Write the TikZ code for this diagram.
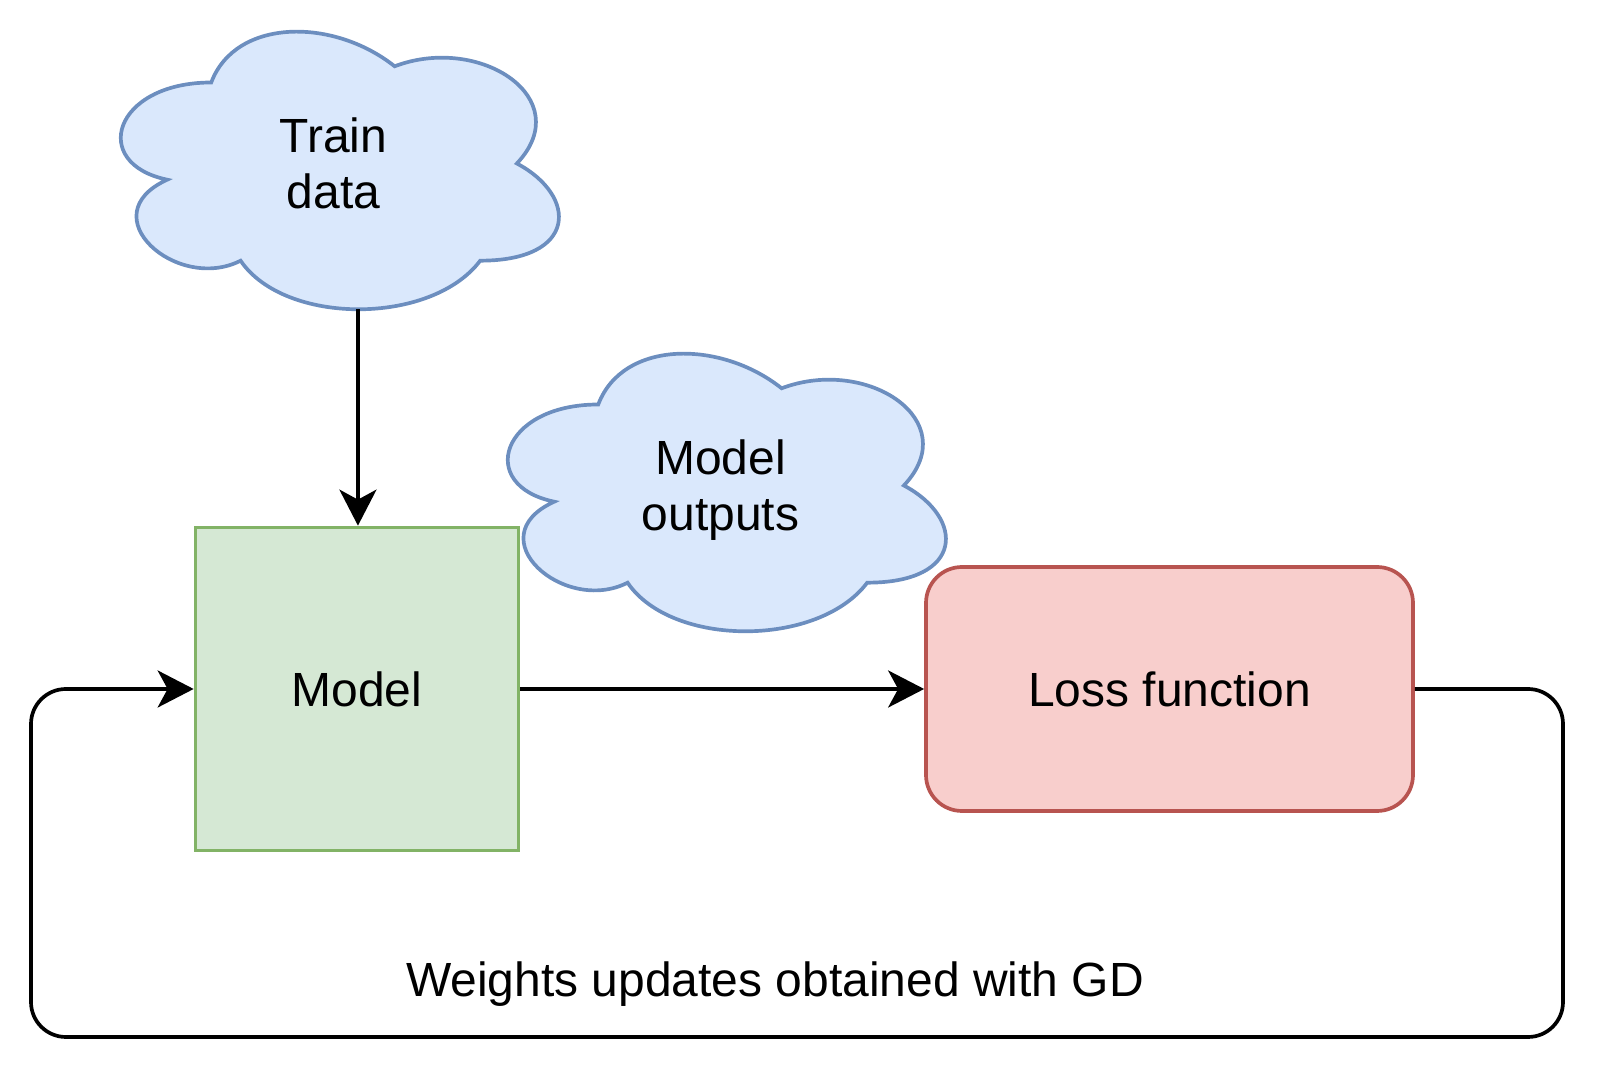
\documentclass[tikz,border=0pt]{standalone}
\usepackage{fontspec}
\setmainfont{Liberation Sans}
\usepackage{xcolor}
\usetikzlibrary{arrows.meta,backgrounds}

\definecolor{cloudfill}{HTML}{DAE8FC}
\definecolor{cloudedge}{HTML}{6C8EBF}
\definecolor{modelfill}{HTML}{D5E8D4}
\definecolor{modeledge}{HTML}{82B366}
\definecolor{lossfill}{HTML}{F8CECC}
\definecolor{lossedge}{HTML}{B85450}

\newcommand{\cloudoutline}[1]{%
\begin{scope}[on background layer, shift={(#1.north west)}, x=9.78cm, y=-6.48cm]
\draw [cloudline] (0.25,0.25) .. controls (0.05,0.25) and (0,0.5) .. (0.16,0.55)
  .. controls (0,0.66) and (0.18,0.9) .. (0.31,0.8)
  .. controls (0.4,1) and (0.7,1) .. (0.8,0.8)
  .. controls (1,0.8) and (1,0.6) .. (0.875,0.5)
  .. controls (1,0.3) and (0.8,0.1) .. (0.625,0.2)
  .. controls (0.5,0.05) and (0.3,0.05) .. (0.25,0.25) -- cycle;
\coordinate (#1-bottom) at (0.55,0.95);
\end{scope}}

\begin{document}
\begin{tikzpicture}[font=\fontsize{27.3}{31.9}\selectfont,
  flow/.style={line width=2.1pt, -{Stealth[length=0.72cm, width=0.74cm, inset=0.2cm]}},
  cloudline/.style={draw=cloudedge, fill=cloudfill, line width=2.1pt},
  cloudtext/.style={minimum width=9.78cm, minimum height=6.48cm, inner sep=0, outer sep=0, align=center, text depth=0pt},
  modelbox/.style={draw=modeledge, fill=modelfill, line width=2.1pt, minimum width=6.46cm, minimum height=6.46cm},
  lossbox/.style={draw=lossedge, fill=lossfill, line width=2.1pt, rounded corners=0.72cm, minimum width=9.74cm, minimum height=4.88cm}]
\useasboundingbox (0,0) rectangle (32,21.42);

\node [cloudtext] (train) at (6.67,18.15) {Train\\data};
\node [cloudtext] (outputs) at (14.41,11.71) {Model\\outputs};
\cloudoutline{train}
\cloudoutline{outputs}

\node [modelbox] (model) at (7.14,7.64) {Model};
\node [lossbox] (loss) at (23.39,7.64) {Loss function};

\coordinate (loopse) at (31.26,0.68);
\coordinate (loopsw) at (0.62,0.68);

\draw [flow] (train-bottom) -- (train-bottom |- model.north);
\draw [flow] (model) -- (loss);
\draw [flow, rounded corners=0.7cm] (loss.east) -| (loopse) -| (loopsw |- model.west) -- (model.west);

\node [anchor=base] (gd) at (15.5,1.48) {Weights updates obtained with GD};
\end{tikzpicture}
\end{document}
